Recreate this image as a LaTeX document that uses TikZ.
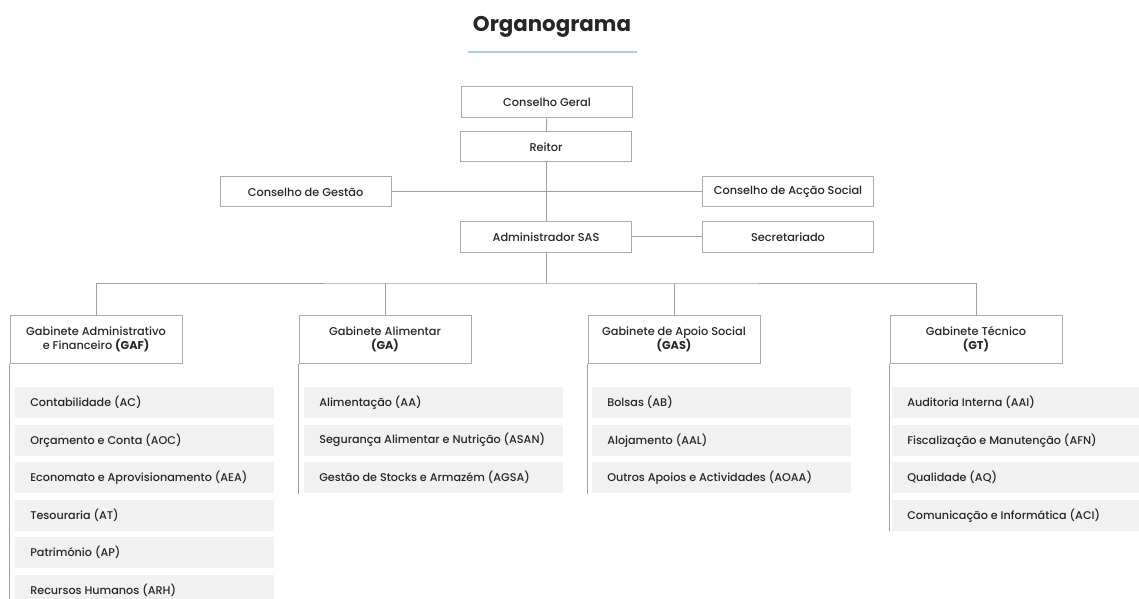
\documentclass[tikz,border=0pt]{standalone}
\usepackage{fontspec}
\IfFontExistsTF{Poppins Medium}
  {\setmainfont{Poppins Medium}[BoldFont={Poppins Bold}]}
  {\setmainfont{Poppins}[UprightFeatures={FakeBold=0.5}]}
\definecolor{boxc}{HTML}{ABABAB}
\definecolor{linec}{HTML}{9E9E9E}
\definecolor{itemc}{HTML}{F1F1F1}
\definecolor{txt}{HTML}{262626}
\definecolor{uline}{HTML}{A3CFEA}
\newcommand\itm[1]{\makebox[171.75pt][l]{#1}}
\newcommand\itmr[1]{\makebox[162.75pt][l]{#1}}
\begin{document}
\begin{tikzpicture}[x=0.75pt,y=-0.75pt,
  box/.style={draw=boxc, line width=0.75pt, fill=white, minimum width=128.25pt,
    minimum height=22.5pt, inner sep=0pt, text=txt, font=\fontsize{8.5}{10}\selectfont},
  hbox/.style={box, minimum width=129pt, minimum height=36pt, align=center,
    font=\fontsize{8.5}{10.5}\selectfont},
  item/.style={fill=itemc, anchor=north west, minimum height=23.25pt, inner xsep=11.25pt,
    inner ysep=0pt, text=txt, font=\fontsize{8.4}{10}\selectfont},
  conn/.style={draw=linec, line width=0.75pt}]
\useasboundingbox (0,0) rectangle (1139,599);

% title
\node[anchor=base, text=txt, font=\fontsize{16}{18}\selectfont\bfseries] (title) at (552,32) {Organograma};
\coordinate (ul1) at (468,52);
\coordinate (ul2) at (637,52);
\draw[uline, line width=1.5pt] (ul1) -- (ul2);

% top level
\node[box, minimum height=23.25pt] (cg) at (547,102.5) {Conselho Geral};
\node[box] (reitor) at (546,147) {Reitor};
\node[box] (cdg) at (305.5,192) {Conselho de Gestão};
\node[box] (cas) at (788,192) {Conselho de Acção Social};
\node[box] (adm) at (546,237) {Administrador SAS};
\node[box] (sec) at (788,237) {Secretariado};

\draw[conn] (cg) -- (reitor);
\draw[conn] (reitor) -- (adm);
\draw[conn] (cdg) -- (cas);
\draw[conn] (adm) -- (sec);

% gabinetes
\node[hbox] (gaf) at (96,339) {Gabinete Administrativo\\e Financeiro \textbf{(GAF)}};
\node[hbox] (ga) at (385,339) {Gabinete Alimentar\\\textbf{(GA)}};
\node[hbox] (gas) at (674,339) {Gabinete de Apoio Social\\\textbf{(GAS)}};
\node[hbox] (gt) at (976,339) {Gabinete Técnico\\\textbf{(GT)}};

\coordinate (bus) at (546,283);
\draw[conn] (adm) -- (bus);
\draw[conn] (gaf.north) |- (bus) -| (gt.north);
\draw[conn] (ga.north) -- (ga.north |- bus);
\draw[conn] (gas.north) -- (gas.north |- bus);

% items GAF
\node[item] (ac)  at (15,387)   {\itm{Contabilidade (AC)}};
\node[item] (aoc) at (15,424.5) {\itm{Orçamento e Conta (AOC)}};
\node[item] (aea) at (15,462)   {\itm{Economato e Aprovisionamento (AEA)}};
\node[item] (at)  at (15,499.5) {\itm{Tesouraria (AT)}};
\node[item] (ap)  at (15,537)   {\itm{Património (AP)}};
\node[item] (arh) at (15,574.5) {\itm{Recursos Humanos (ARH)}};
% items GA
\node[item] (aa)   at (304,387)   {\itm{Alimentação (AA)}};
\node[item] (asan) at (304,424.5) {\itm{Segurança Alimentar e Nutrição (ASAN)}};
\node[item] (agsa) at (304,462)   {\itm{Gestão de Stocks e Armazém (AGSA)}};
% items GAS
\node[item] (ab)   at (592,387)   {\itm{Bolsas (AB)}};
\node[item] (aal)  at (592,424.5) {\itm{Alojamento (AAL)}};
\node[item] (aoaa) at (592,462)   {\itm{Outros Apoios e Actividades (AOAA)}};
% items GT
\node[item] (aai) at (892,387)   {\itmr{Auditoria Interna (AAI)}};
\node[item] (afn) at (892,424.5) {\itmr{Fiscalização e Manutenção (AFN)}};
\node[item] (aq)  at (892,462)   {\itmr{Qualidade (AQ)}};
\node[item] (aci) at (892,499.5) {\itmr{Comunicação e Informática (ACI)}};

% left rails
\coordinate (gafend) at (10,602);
\draw[conn] (gaf.south west) -- (gaf.south west |- gafend);
\draw[conn] (ga.south west) -- (ga.south west |- agsa.south);
\draw[conn] (gas.south west) -- (gas.south west |- aoaa.south);
\draw[conn] (gt.south west) -- (gt.south west |- aci.south);
\end{tikzpicture}
\end{document}
